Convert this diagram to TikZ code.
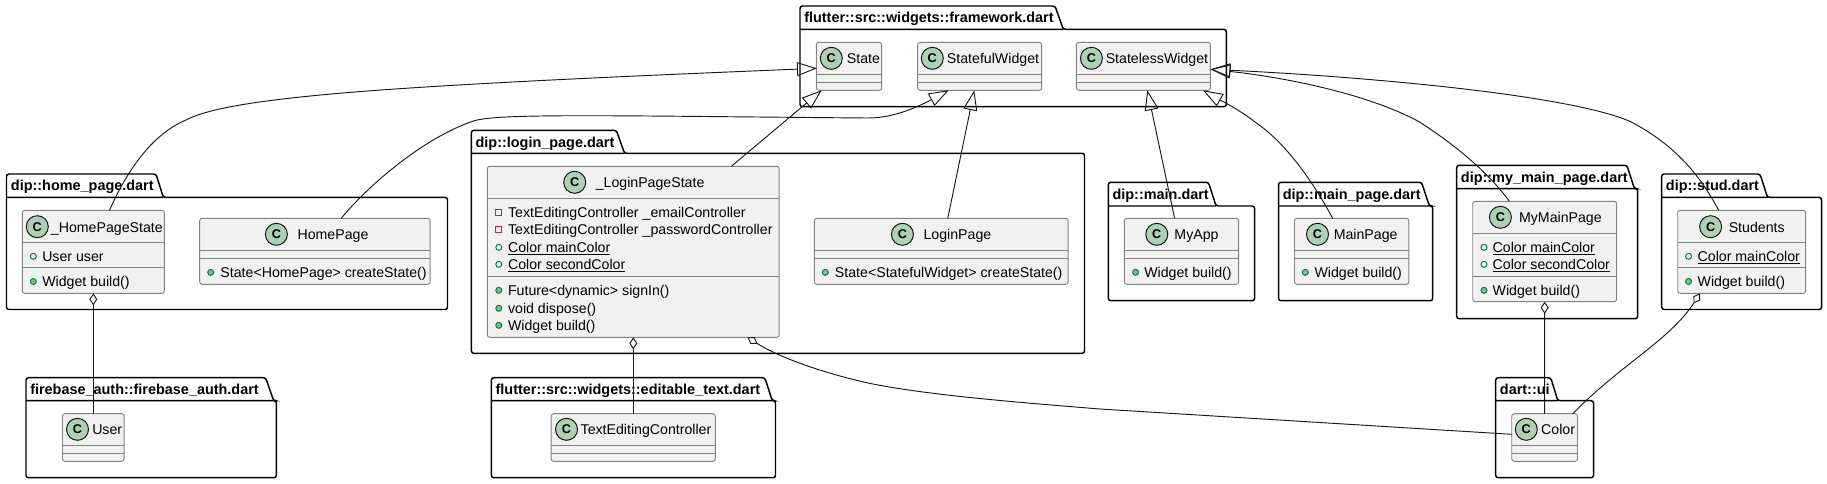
\documentclass[tikz,border=0pt]{standalone}
\usepackage{fontspec}
\setmainfont{Liberation Sans}
\usetikzlibrary{arrows.meta,calc,fit}

\definecolor{umlink}{RGB}{24,24,24}
\definecolor{umledge}{RGB}{130,130,130}
\definecolor{umlbody}{RGB}{241,241,241}
\definecolor{umlicon}{RGB}{173,209,178}
\definecolor{umlgreen}{RGB}{3,128,72}
\definecolor{umlmethod}{RGB}{132,190,132}
\definecolor{umlred}{RGB}{200,41,48}

\tikzset{
  umlpackage/.style={draw=black,line width=1.1pt,rounded corners=1.8pt},
  umlclass/.style={draw=umledge,fill=umlbody,line width=0.7pt,rounded corners=1.8pt,inner sep=0pt,outer sep=0pt},
  classline/.style={draw=umledge,line width=0.7pt},
  classicon/.style={circle,draw=umlink,fill=umlicon,line width=0.75pt,minimum size=16.5pt,inner sep=0pt,font=\fontsize{9.5}{10}\selectfont\bfseries},
  classtext/.style={anchor=base west,inner sep=0pt,font=\fontsize{10.62}{12}\selectfont},
  packagetext/.style={anchor=base west,inner sep=0pt,font=\fontsize{10.82}{12}\selectfont\bfseries},
  publicfield/.style={circle,draw=umlgreen,line width=0.75pt,minimum size=4.5pt,inner sep=0pt},
  publicmethod/.style={circle,draw=umlgreen,fill=umlmethod,line width=0.75pt,minimum size=4.5pt,inner sep=0pt},
  privatefield/.style={rectangle,draw=umlred,line width=0.75pt,minimum size=4.5pt,inner sep=0pt},
  umlline/.style={draw=umlink,line width=0.7pt},
  extendsline/.style={umlline,-{Triangle[open,length=15pt,width=10.5pt]}},
  holdsline/.style={umlline,{Diamond[open,length=9pt,width=6pt]}-},
}

\begin{document}
\begin{tikzpicture}[x=0.75pt,y=0.75pt,yscale=-1,xscale=1]
        \useasboundingbox (0,0) rectangle (1827,483);

        %Shape: Polygon (packages)
        \draw [umlpackage] (800,106.7) -- (800,6) -- (1055,6) -- (1063.3,29.3) -- (1226.3,29.3) -- (1226.3,106.7) -- cycle (800,29.3) -- (1063.3,29.3) ;
        \draw [umlpackage] (6.5,309.5) -- (6.5,174) -- (156,174) -- (163.3,197.4) -- (447.5,197.4) -- (447.5,309.5) -- cycle (6.5,197.4) -- (163.3,197.4) ;
        \draw [umlpackage] (471.4,353.3) -- (471.4,130.3) -- (616.3,130.3) -- (624.5,153.3) -- (1084.5,153.3) -- (1084.5,353.3) -- cycle (471.4,153.3) -- (624.5,153.3) ;
        \draw [umlpackage] (1108.3,300.7) -- (1108.3,182.3) -- (1208.5,182.3) -- (1216,206) -- (1254.6,206) -- (1254.6,300.7) -- cycle (1108.3,206) -- (1216,206) ;
        \draw [umlpackage] (1278.5,300.7) -- (1278.5,182.3) -- (1421.5,182.3) -- (1429.4,206) -- (1432.7,206) -- (1432.7,300.7) -- cycle (1278.5,206) -- (1429.4,206) ;
        \draw [umlpackage] (1456.7,318.7) -- (1456.7,165.3) -- (1626.9,165.3) -- (1634.4,188.7) -- (1637.7,188.7) -- (1637.7,318.7) -- cycle (1456.7,188.7) -- (1634.4,188.7) ;
        \draw [umlpackage] (1661.7,309.5) -- (1661.7,174) -- (1760,174) -- (1767.5,197.4) -- (1821.5,197.4) -- (1821.5,309.5) -- cycle (1661.7,197.4) -- (1767.5,197.4) ;
        \draw [umlpackage] (26,477.7) -- (26,377.7) -- (265.7,377.7) -- (273.6,400.7) -- (276.4,400.7) -- (276.4,477.7) -- cycle (26,400.7) -- (273.6,400.7) ;
        \draw [umlpackage] (491.4,477.7) -- (491.4,377.7) -- (764.9,377.7) -- (772.2,400.7) -- (775.5,400.7) -- (775.5,477.7) -- cycle (491.4,400.7) -- (772.2,400.7) ;
        \draw [umlpackage] (1495.7,477.7) -- (1495.7,377.7) -- (1550.7,377.7) -- (1557.8,400.7) -- (1593.5,400.7) -- (1593.5,477.7) -- cycle (1495.7,400.7) -- (1557.8,400.7) ;

        % Text Node
        \draw (804,22.7) node (frameworktitle) [packagetext] {flutter::src::widgets::framework.dart};
        \draw (10.7,190.7) node (hometitle) [packagetext] {dip::home\_page.dart};
        \draw (475.4,147) node (logintitle) [packagetext] {dip::login\_page.dart};
        \draw (1112.3,199) node (maintitle) [packagetext] {dip::main.dart};
        \draw (1282.5,199) node (mainpagetitle) [packagetext] {dip::main\_page.dart};
        \draw (1460.7,182) node (mymainpagetitle) [packagetext] {dip::my\_main\_page.dart};
        \draw (1665.7,190.7) node (studtitle) [packagetext] {dip::stud.dart};
        \draw (30,394.4) node (firebasetitle) [packagetext] {firebase\_auth::firebase\_auth.dart};
        \draw (495.4,394.4) node (editabletitle) [packagetext] {flutter::src::widgets::editable\_text.dart};
        \draw (1499.7,394.4) node (uititle) [packagetext] {dart::ui};

        %Shape: Rectangle (State)
        \node (state) [umlclass,fit={(816.3,42.3) (881.7,90.3)}] {};
        \draw [classline] (816.3,74.7) -- (881.7,74.7) (816.3,82.7) -- (881.7,82.7) ;
        \draw (831.3,58.3) node (stateicon) [classicon] {C};
        \draw (846.7,63.8) node (statetitle) [classtext] {State};

        %Shape: Rectangle (StatefulWidget)
        \node (stateful) [umlclass,fit={(917.7,42.3) (1041.7,90.3)}] {};
        \draw [classline] (917.7,74.7) -- (1041.7,74.7) (917.7,82.7) -- (1041.7,82.7) ;
        \draw (932.3,58.3) node (statefulicon) [classicon] {C};
        \draw (946.7,63.8) node (statefultitle) [classtext] {StatefulWidget};

        %Shape: Rectangle (StatelessWidget)
        \node (stateless) [umlclass,fit={(1076.3,42.3) (1210.4,90.3)}] {};
        \draw [classline] (1076.3,74.7) -- (1210.4,74.7) (1076.3,82.7) -- (1210.4,82.7) ;
        \draw (1091.4,58.3) node (statelessicon) [classicon] {C};
        \draw (1105.5,63.8) node (statelesstitle) [classtext] {StatelessWidget};

        %Shape: Rectangle (_HomePageState)
        \node (homestate) [umlclass,fit={(22.3,210.3) (164.3,293.3)}] {};
        \draw [classline] (22.3,242.7) -- (164.3,242.7) (22.3,267.3) -- (164.3,267.3) ;
        \draw (37.3,226.7) node (homestateicon) [classicon] {C};
        \draw (50.7,232.2) node (homestatetitle) [classtext] {\_HomePageState};
        \draw (33.3,256.3) node (homestatemarka) [publicfield] {};
        \draw (42,261.3) node (homestateuser) [classtext] {User user};
        \draw (33.3,281.5) node (homestatemarkb) [publicmethod] {};
        \draw (42,286.5) node (homestatebuild) [classtext] {Widget build()};

        %Shape: Rectangle (HomePage)
        \node (homepage) [umlclass,fit={(199.7,218.3) (430.2,284.3)}] {};
        \draw [classline] (199.7,250.3) -- (430.2,250.3) (199.7,258.3) -- (430.2,258.3) ;
        \draw (276.4,234.3) node (homepageicon) [classicon] {C};
        \draw (297.3,239.8) node (homepagetitle) [classtext] {HomePage};
        \draw (210.7,272.3) node (homepagemark) [publicmethod] {};
        \draw (220.2,277.3) node (homepagecreate) [classtext] {State<HomePage> createState()};

        %Shape: Rectangle (User)
        \node (user) [umlclass,fit={(62.5,413.7) (124.1,461.3)}] {};
        \draw [classline] (62.5,445.3) -- (124.1,445.3) (62.5,453.3) -- (124.1,453.3) ;
        \draw (77.5,429.3) node (usericon) [classicon] {C};
        \draw (92,434.8) node (usertitle) [classtext] {User};

        %Shape: Rectangle (_LoginPageState)
        \node (loginstate) [umlclass,fit={(487.3,166.3) (779.2,337.3)}] {};
        \draw [classline] (487.3,198.3) -- (779.2,198.3) (487.3,276.7) -- (779.2,276.7) ;
        \draw (574.7,182.3) node (loginstateicon) [classicon] {C};
        \draw (595.5,187.8) node (loginstatetitle) [classtext] {\_LoginPageState};
        \draw (498.8,212.3) node (loginmarka) [privatefield] {};
        \draw (507.8,217.3) node (loginemail) [classtext] {TextEditingController \_emailController};
        \draw (498.8,229.3) node (loginmarkb) [privatefield] {};
        \draw (507.8,234.3) node (loginpassword) [classtext] {TextEditingController \_passwordController};
        \draw (498.8,247.3) node (loginmarkc) [publicfield] {};
        \draw (507.8,252.3) node (loginmain) [classtext] {\underline{Color mainColor}};
        \draw (498.8,264.3) node (loginmarkd) [publicfield] {};
        \draw (507.8,269.3) node (loginsecond) [classtext] {\underline{Color secondColor}};
        \draw (498.8,290.3) node (loginmarke) [publicmethod] {};
        \draw (507.8,295.3) node (loginsignin) [classtext] {Future<dynamic> signIn()};
        \draw (498.8,308.3) node (loginmarkf) [publicmethod] {};
        \draw (507.8,313.3) node (logindispose) [classtext] {void dispose()};
        \draw (498.8,325.3) node (loginmarkg) [publicmethod] {};
        \draw (507.8,330.3) node (loginbuild) [classtext] {Widget build()};

        %Shape: Rectangle (LoginPage)
        \node (loginpage) [umlclass,fit={(814.3,218.3) (1068.2,284.3)}] {};
        \draw [classline] (814.3,250.3) -- (1068.2,250.3) (814.3,258.3) -- (1068.2,258.3) ;
        \draw (902.4,234.3) node (loginpageicon) [classicon] {C};
        \draw (923.3,239.8) node (loginpagetitle) [classtext] {LoginPage};
        \draw (825.3,272.3) node (loginpagemark) [publicmethod] {};
        \draw (834.7,277.3) node (loginpagecreate) [classtext] {State<StatefulWidget> createState()};

        %Shape: Rectangle (TextEditingController)
        \node (controller) [umlclass,fit={(551.2,413.7) (715.3,461.3)}] {};
        \draw [classline] (551.2,445.3) -- (715.3,445.3) (551.2,453.3) -- (715.3,453.3) ;
        \draw (566.5,429.3) node (controllericon) [classicon] {C};
        \draw (580.4,434.8) node (controllertitle) [classtext] {TextEditingController};

        %Shape: Rectangle (MyApp)
        \node (myapp) [umlclass,fit={(1124.3,218.3) (1238.6,284.3)}] {};
        \draw [classline] (1124.3,250.3) -- (1238.6,250.3) (1124.3,258.3) -- (1238.6,258.3) ;
        \draw (1156.8,234.3) node (myappicon) [classicon] {C};
        \draw (1174.2,239.8) node (myapptitle) [classtext] {MyApp};
        \draw (1135.6,272.3) node (myappmark) [publicmethod] {};
        \draw (1144,277.3) node (myappbuild) [classtext] {Widget build()};

        %Shape: Rectangle (MainPage)
        \node (mainpage) [umlclass,fit={(1294.5,218.3) (1408.8,284.3)}] {};
        \draw [classline] (1294.5,250.3) -- (1408.8,250.3) (1294.5,258.3) -- (1408.8,258.3) ;
        \draw (1317.5,234.3) node (mainpageicon) [classicon] {C};
        \draw (1333.5,239.8) node (mainpagelabel) [classtext] {MainPage};
        \draw (1305.3,272.3) node (mainpagemark) [publicmethod] {};
        \draw (1314.3,277.3) node (mainpagebuild) [classtext] {Widget build()};

        %Shape: Rectangle (MyMainPage)
        \node (mymainpage) [umlclass,fit={(1472.7,201.3) (1616.6,301.7)}] {};
        \draw [classline] (1472.7,233.3) -- (1616.6,233.3) (1472.7,276.7) -- (1616.6,276.7) ;
        \draw (1500.4,217.3) node (mymainpageicon) [classicon] {C};
        \draw (1518.8,222.8) node (mymainpagelabel) [classtext] {MyMainPage};
        \draw (1484,247.3) node (mymainmarka) [publicfield] {};
        \draw (1492.4,252.3) node (mymainmain) [classtext] {\underline{Color mainColor}};
        \draw (1484,264.3) node (mymainmarkb) [publicfield] {};
        \draw (1492.4,269.3) node (mymainsecond) [classtext] {\underline{Color secondColor}};
        \draw (1484,290.3) node (mymainmarkc) [publicmethod] {};
        \draw (1492.4,295.3) node (mymainbuild) [classtext] {Widget build()};

        %Shape: Rectangle (Students)
        \node (students) [umlclass,fit={(1677.7,210.3) (1805.6,293.3)}] {};
        \draw [classline] (1677.7,242.7) -- (1805.6,242.7) (1677.7,267.3) -- (1805.6,267.3) ;
        \draw (1710.6,226.7) node (studentsicon) [classicon] {C};
        \draw (1728.5,232.2) node (studentslabel) [classtext] {Students};
        \draw (1688.5,256.3) node (studentsmarka) [publicfield] {};
        \draw (1697.4,261.3) node (studentsmain) [classtext] {\underline{Color mainColor}};
        \draw (1688.5,281.5) node (studentsmarkb) [publicmethod] {};
        \draw (1697.4,286.5) node (studentsbuild) [classtext] {Widget build()};

        %Shape: Rectangle (Color)
        \node (color) [umlclass,fit={(1511.7,413.7) (1577.5,461.3)}] {};
        \draw [classline] (1511.7,445.3) -- (1577.5,445.3) (1511.7,453.3) -- (1577.5,453.3) ;
        \draw (1526.3,429.3) node (coloricon) [classicon] {C};
        \draw (1540.9,434.8) node (colorlabel) [classtext] {Color};

        %Straight Lines
        \draw [extendsline] ($(loginstate.north west)+(244.1,0)$) -- ($(state.south)+(-27.3,0)$) ;
        \draw [extendsline] ($(loginpage.north)+(6.5,0)$) -- ($(stateful.south)+(-5.4,0)$) ;
        \draw [extendsline] ($(myapp.north)+(-6.85,0)$) -- ($(stateless.south)+(4,0)$) ;
        \draw [holdsline] (homestate.south) -- (user.north) ;
        \draw [holdsline] (loginstate.south) -- (controller.north) ;
        \draw [holdsline] (mymainpage.south) -- (color.north) ;

        %Curve Lines
        \draw [extendsline] ($(homestate.north)+(16.2,0)$) .. controls (125,175) and (150,135) .. (186,120) .. controls (205,110) and (250,99) .. (395,89) .. controls (520,80.5) and (680,74) .. ($(state.west)+(0.7,2)$) ;
        \draw [extendsline] ($(homepage.north)+(26.2,0)$) .. controls (375,178) and (430,135) .. (474.5,120.7) .. controls (500,113) and (620,116) .. (868,118) .. controls (890,118) and (912,110) .. ($(stateful.south)+(-31,0)$) ;
        \draw [extendsline] ($(mainpage.north)+(-19,0)$) .. controls (1312,180) and (1285,142) .. (1254.5,121.7) .. controls (1240,110) and (1220,100) .. ($(stateless.south)+(59.5,0)$) ;
        \draw [extendsline] ($(mymainpage.north)+(-35.25,0)$) .. controls (1490,175) and (1460,148) .. (1419,121.7) .. controls (1370,95) and (1290,78) .. ($(stateless.east)+(0,3)$) ;
        \draw [extendsline] ($(students.north)+(-23,0)$) .. controls (1700,175) and (1675,145) .. (1630.7,121.7) .. controls (1570,95) and (1370,77) .. ($(stateless.east)+(0,3)$) ;
        \draw [holdsline] ($(loginstate.south west)+(260.2,0)$) .. controls (775,355) and (815,371) .. (868,383) .. controls (930,396) and (1040,404) .. (1100,409) -- ($(color.west)+(0,-3.2)$) ;
        \draw [holdsline] ($(students.south)+(-41.6,0)$) .. controls (1670,340) and (1620,365) .. ($(color.north east)+(-4.7,0)$) ;

\end{tikzpicture}
\end{document}
